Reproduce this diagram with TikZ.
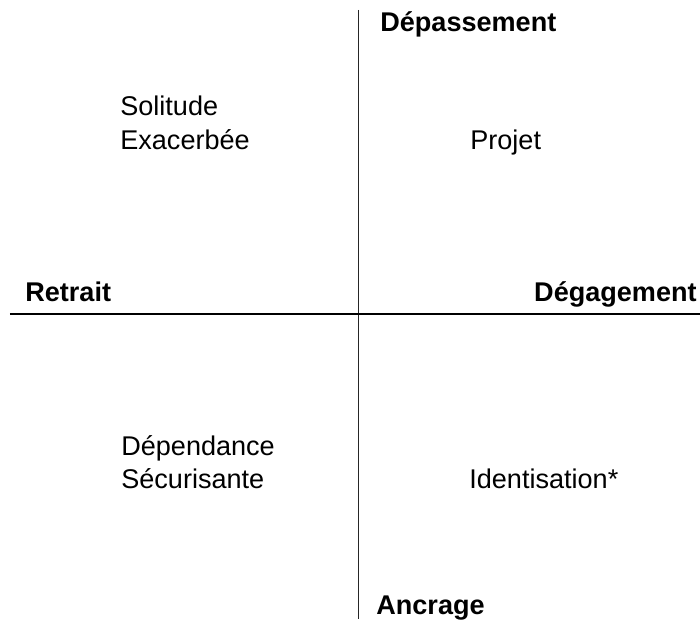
\documentclass[tikz,border=0pt]{standalone}
\usepackage{fontspec}
\setmainfont{Liberation Sans}
\usepackage{tikz}

\begin{document}
\begin{tikzpicture}[every node/.style={inner sep=0pt,font=\fontsize{15.4pt}{19.1pt}\selectfont},
      pole/.style={font=\fontsize{15.4pt}{19.1pt}\selectfont\bfseries}]
      \useasboundingbox (0,0) rectangle (14,12.38);
      \coordinate (haut) at (7.17,12.18);
      \coordinate (bas) at (7.17,0);
      \coordinate (gauche) at (0.2,6.1);
      \coordinate (droite) at (14,6.1);
      \draw[line width=0.8pt,black!85] (haut) -- (bas);
      \draw[line width=1.1pt] (gauche) -- (droite);
      \node[pole,anchor=base west] (depassement) at (7.6,11.74) {Dépassement};
      \node[pole,anchor=base west] (retrait) at (0.5,6.34) {Retrait};
      \node[pole,anchor=base east] (degagement) at (13.94,6.34) {Dégagement};
      \node[pole,anchor=base west] (ancrage) at (7.52,0.1) {Ancrage};
      \node[anchor=base west,align=left] (solitude) at (2.4,9.39) {Solitude\\Exacerbée};
      \node[anchor=base west] (projet) at (9.4,9.39) {Projet};
      \node[anchor=base west,align=left] (dependance) at (2.42,2.6) {Dépendance\\Sécurisante};
      \node[anchor=base west] (identisation) at (9.38,2.6) {Identisation*};
\end{tikzpicture}
\end{document}
